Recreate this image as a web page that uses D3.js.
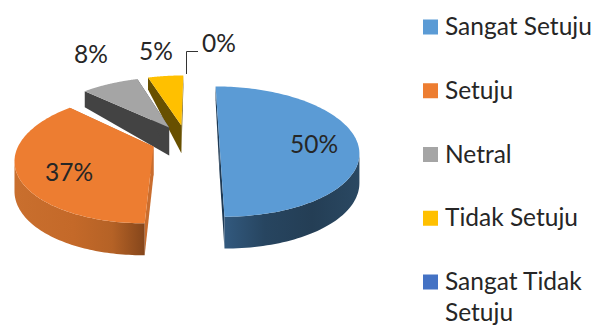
<!DOCTYPE html>
<html>
<head>
<meta charset="utf-8">
<script src="https://cdn.jsdelivr.net/npm/d3@7/dist/d3.min.js"></script>
<style>
  html, body { margin: 0; padding: 0; background: #fff; }
  svg { display: block; }
  text { font-family: Lato, "Open Sans", sans-serif; fill: #262626; }
</style>
</head>
<body>
<svg id="chart" width="595" height="327"></svg>
<script>
const categories = ["Sangat Setuju", "Setuju", "Netral", "Tidak Setuju", "Sangat Tidak Setuju"];
const shares = [50, 37, 8, 5, 0];
const topColors = ["#5B9BD5", "#ED7D31", "#A5A5A5", "#FFC000", "#4472C4"];
const cutColors = ["#1f3a54", "#c96d2e", "#434343", "#685000", "#2a4576"];
const wallStops = [
  ["#32597e", "#274560", "#243e55", "#2a4862"],
  ["#c96f2e", "#c46929", "#b56226", "#85461b"],
  ["#5f5f5f", "#4a4a4a", "#444444", "#444444"],
  ["#8f6c00", "#7a5d00", "#685000", "#685000"],
  ["#2a4576", "#2a4576", "#2a4576", "#2a4576"]
];
// How far each slice is pulled out, and how far its rim reaches
const sliceExplode = [0.24, 0.25, 0.24, 0.24, 0.225];
const sliceReach = [0.99, 0.96, 1, 1, 1];

const svg = d3.select("#chart");
const defs = svg.append("defs");

// Perspective camera for the tilted disc
const vanish = { x: 195, y: -216 };
const centre = { x: 186, y: 140 };
const radius = 138.5;
const tilt = 0.179;
const rim = d3.scaleLinear().domain([0.82, 1.04, 1.2]).range([32, 28, 12]).clamp(true);

const pie = d3.pie().value(d => d).sort(null);
const arcs = pie(shares);

function project(theta, reach, mid, pull) {
  const u = reach * Math.sin(theta) + pull * Math.sin(mid);
  const v = reach * Math.cos(theta) + pull * Math.cos(mid);
  const w = 1 + tilt * v;
  return {
    x: vanish.x + (centre.x - vanish.x + radius * u) / w,
    y: vanish.y + (centre.y - vanish.y) / w,
    w
  };
}
const drop = p => ({ x: p.x, y: p.y + rim(p.w) });
const outline = d3.line().x(p => p.x).y(p => p.y);
const closed = pts => outline(pts) + "Z";

// Slices are painted from the back of the disc to the front
const order = [4, 3, 2, 1, 0];
order.forEach(i => {
  const a = arcs[i];
  if (a.endAngle - a.startAngle <= 0) return;
  const mid = (a.startAngle + a.endAngle) / 2;
  const g = svg.append("g");
  const thetas = d3.range(0, 121).map(k => a.startAngle + (a.endAngle - a.startAngle) * k / 120);
  const rimPts = thetas.map(t => project(t, sliceReach[i], mid, sliceExplode[i]));
  const apex = project(0, 0, mid, sliceExplode[i]);

  const startFace = [apex, rimPts[0], drop(rimPts[0]), drop(apex)];
  const endFace = [apex, rimPts[rimPts.length - 1], drop(rimPts[rimPts.length - 1]), drop(apex)];
  g.append("path").attr("d", closed(startFace)).attr("fill", cutColors[i]);
  g.append("path").attr("d", closed(endFace)).attr("fill", cutColors[i]);

  // Outer wall: only the stretch that turns toward the viewer
  const front = rimPts.filter((p, k) =>
    (k > 0 && rimPts[k - 1].x > p.x) || (k < rimPts.length - 1 && p.x > rimPts[k + 1].x));
  if (front.length > 1) {
    const gradId = "wall" + i;
    const xs = d3.extent(front, p => p.x);
    const grad = defs.append("linearGradient").attr("id", gradId)
      .attr("gradientUnits", "userSpaceOnUse")
      .attr("x1", xs[0]).attr("x2", xs[1]).attr("y1", 0).attr("y2", 0);
    const stopsAt = i === 1 ? [0, 0.45, 0.75, 1] : [0, 0.3, 0.65, 1];
    wallStops[i].forEach((c, k) => grad.append("stop").attr("offset", stopsAt[k]).attr("stop-color", c));
    g.append("path")
      .attr("d", closed(front.concat(front.map(drop).reverse())))
      .attr("fill", `url(#${gradId})`);
  }
  g.append("path").attr("d", closed([apex].concat(rimPts))).attr("fill", topColors[i]);
});

// Leader line for the empty slice
const leader = [
  { x: 186.5, y: 74 },
  { x: 186.5, y: 51.5 },
  { x: 198, y: 51.5 }
];
svg.append("path").attr("d", outline(leader)).attr("fill", "none")
  .attr("stroke", "#333333").attr("stroke-width", 1);

// Percentage labels
const labelPos = [[314, 147], [69, 175], [91, 57], [156, 54], [219, 46]];
svg.selectAll("text.pct").data(arcs).join("text")
  .attr("class", "pct")
  .attr("x", (d, i) => labelPos[i][0])
  .attr("y", (d, i) => labelPos[i][1])
  .attr("text-anchor", "middle")
  .attr("dominant-baseline", "middle")
  .attr("font-size", 24.5)
  .text(d => d.value + "%");

// Legend
const legendY = d3.scalePoint().domain(categories).range([27, 282]);
const legend = svg.append("g").selectAll("g").data(categories).join("g")
  .attr("transform", d => `translate(423,${legendY(d)})`);
legend.append("rect").attr("x", 0).attr("y", -7.5).attr("width", 15).attr("height", 15)
  .attr("fill", (d, i) => topColors[i]);
legend.each(function (d) {
  const words = d === "Sangat Tidak Setuju" ? ["Sangat Tidak", "Setuju"] : [d];
  d3.select(this).selectAll("text").data(words).join("text")
    .attr("x", 22)
    .attr("y", (w, k) => k * 31 + 8)
    .attr("font-size", 24.5)
    .text(w => w);
});
</script>
</body>
</html>
